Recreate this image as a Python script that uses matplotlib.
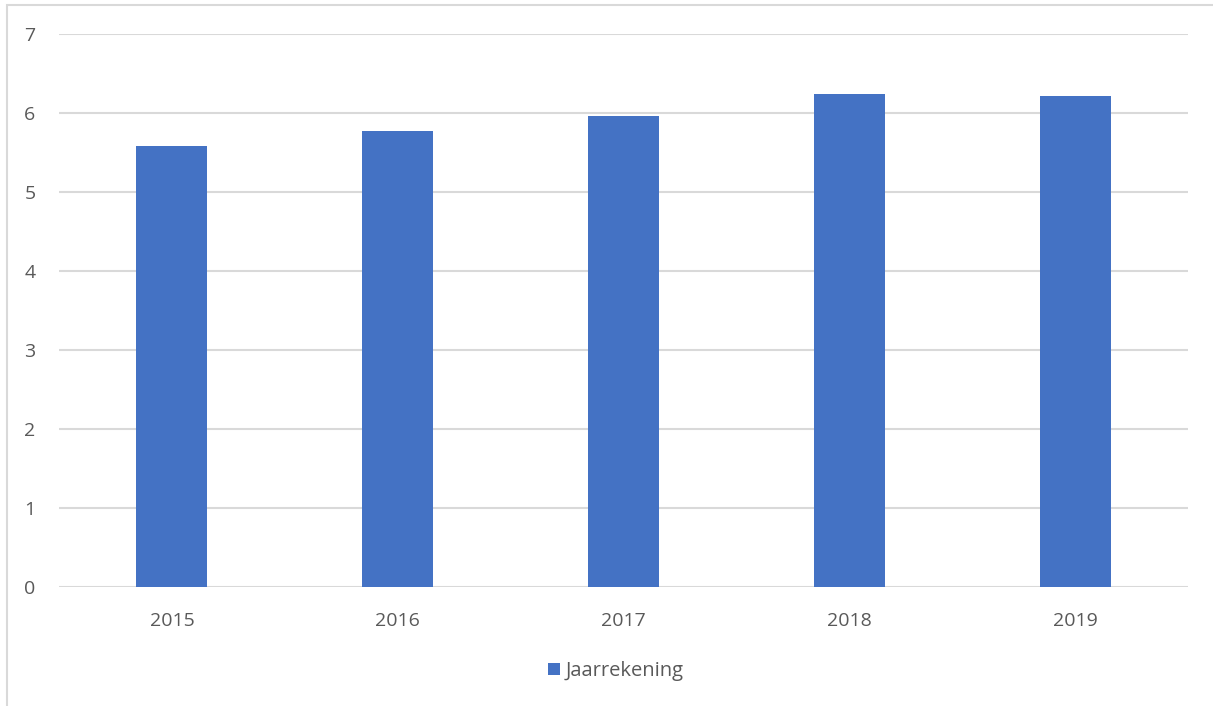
import matplotlib
matplotlib.use('Agg')
import matplotlib.pyplot as plt
from matplotlib.patches import Rectangle

# jaarcijfers per jaar
years = ['2015', '2016', '2017', '2018', '2019']
values = [5.58, 5.77, 5.96, 6.24, 6.21]
y_ticks = [0, 1, 2, 3, 4, 5, 6, 7]
series_name = 'Jaarrekening'

BAR_COLOR = '#4472c4'
GRID_COLOR = '#d9d9d9'
TEXT_COLOR = '#595959'

plt.rcParams['font.family'] = ['Open Sans', 'DejaVu Sans']

W, H = 1213, 706
fig = plt.figure(figsize=(W / 100, H / 100), dpi=100)
ax = fig.add_axes([59 / W, (H - 587) / H, (1188 - 59) / W, (587 - 34) / H])

x = range(len(years))
ax.bar(x, values, width=0.315, color=BAR_COLOR, label=series_name, zorder=3)

ax.set_xlim(-0.5, len(years) - 0.5)
ax.set_ylim(0, 7)
ax.set_yticks(y_ticks)
ax.set_xticks(list(x))
ax.set_xticklabels(years)
ax.yaxis.grid(True, color=GRID_COLOR, linewidth=1.5, zorder=0)
ax.set_axisbelow(True)
for side in ['top', 'right', 'left', 'bottom']:
    ax.spines[side].set_visible(False)
ax.tick_params(axis='both', length=0, labelsize=14, labelcolor=TEXT_COLOR)
ax.tick_params(axis='y', pad=17)
ax.tick_params(axis='x', pad=18)

# kader van het grafiekgebied (loopt door buiten de rand)
fig.add_artist(Rectangle((7 / W, -0.1), 1.2, (H - 5) / H + 0.1,
                         transform=fig.transFigure, fill=False,
                         edgecolor=GRID_COLOR, linewidth=1.5))

ax.legend(loc='center', bbox_to_anchor=(616 / W, (H - 671) / H),
          bbox_transform=fig.transFigure, frameon=False, fontsize=14.5,
          labelcolor=TEXT_COLOR, handlelength=0.6, handleheight=0.6,
          handletextpad=0.3)

fig.savefig('out.png', dpi=100)
